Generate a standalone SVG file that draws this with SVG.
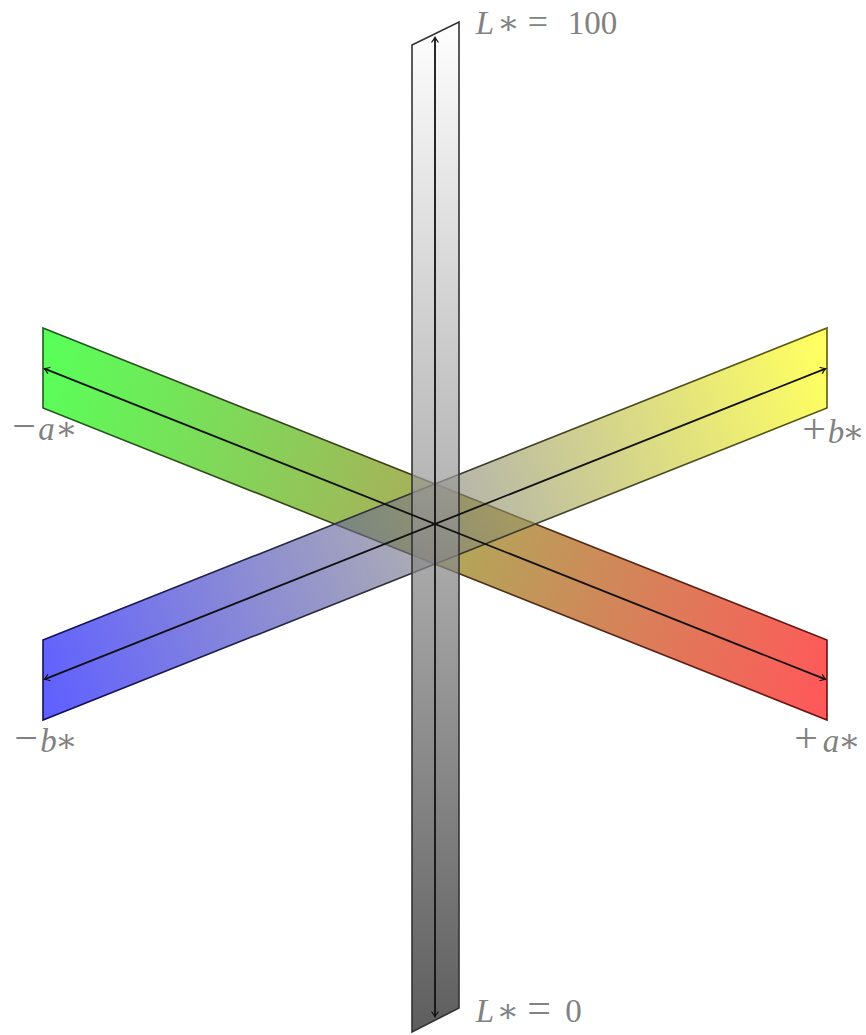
<svg xmlns="http://www.w3.org/2000/svg" width="866" height="1035" viewBox="0 0 866 1035">
<style>
.lbl{font-family:"Liberation Serif","DejaVu Serif",serif;font-size:33px;fill:#828282;text-anchor:middle}
.it{font-style:italic}
.op{font-size:42px}
.eq{font-size:36px}
.axis{stroke:#111;stroke-width:1.8;fill:none;marker-start:url(#arr);marker-end:url(#arr)}
</style>
<defs>
<marker id="arr" viewBox="-6 -5 8 10" markerWidth="8" markerHeight="10" refX="0" refY="0" orient="auto-start-reverse" markerUnits="userSpaceOnUse">
<path d="M-4.5,-3.5 Q-1,-0.8 0.8,0 Q-1,0.8 -4.5,3.5" fill="none" stroke="#111" stroke-width="1.2"/>
</marker>
<linearGradient id="gA" gradientUnits="userSpaceOnUse" x1="43" y1="368" x2="827" y2="680">
<stop offset="0" stop-color="#00ff00"/><stop offset="1" stop-color="#ff0000"/>
</linearGradient>
<linearGradient id="gAs" gradientUnits="userSpaceOnUse" x1="43" y1="368" x2="827" y2="680">
<stop offset="0" stop-color="#1e5a1e"/><stop offset="1" stop-color="#6a1010"/>
</linearGradient>
<linearGradient id="gB" gradientUnits="userSpaceOnUse" x1="43" y1="680" x2="827" y2="368">
<stop offset="0" stop-color="#0000ff"/><stop offset="1" stop-color="#ffff00"/>
</linearGradient>
<linearGradient id="gBs" gradientUnits="userSpaceOnUse" x1="43" y1="680" x2="827" y2="368">
<stop offset="0" stop-color="#10105a"/><stop offset="1" stop-color="#5a5a10"/>
</linearGradient>
<linearGradient id="gL" gradientUnits="userSpaceOnUse" x1="0" y1="22" x2="0" y2="1032">
<stop offset="0" stop-color="#ffffff"/><stop offset="1" stop-color="#202020"/>
</linearGradient>
</defs>
<rect width="866" height="1035" fill="#ffffff"/>
<g id="a-band">
<polygon points="43,328 827,640 827,720 43,408" fill="url(#gA)" fill-opacity="0.65" stroke="url(#gAs)" stroke-width="1.6"/>
</g>
<g id="b-band">
<polygon points="43,640 827,328 827,408 43,720" fill="url(#gB)" fill-opacity="0.62" stroke="url(#gBs)" stroke-width="1.6"/>
</g>
<g id="L-band">
<polygon points="412,45 459,22 459,1008 412,1032" fill="url(#gL)" fill-opacity="0.72" stroke="#333" stroke-width="1.6"/>
</g>
<g id="connectors">
<line class="axis" x1="45" y1="368.8" x2="825" y2="679.2"/>
<line class="axis" x1="45" y1="679.2" x2="825" y2="368.8"/>
<line class="axis" x1="435" y1="1016" x2="435" y2="38"/>
</g>
<g id="labels">
<text class="lbl" y="34"><tspan class="it" x="485">L</tspan><tspan x="508.5">∗</tspan><tspan class="eq" x="538">=</tspan><tspan x="592.5">100</tspan></text>
<text class="lbl" y="1022"><tspan class="it" x="485">L</tspan><tspan x="508">∗</tspan><tspan class="op" x="539">=</tspan><tspan x="573.5">0</tspan></text>
<text class="lbl" y="440"><tspan class="op" x="24">−</tspan><tspan class="it" x="46.5">a</tspan><tspan x="66.5">∗</tspan></text>
<text class="lbl" y="443"><tspan class="op" x="814">+</tspan><tspan class="it" x="836">b</tspan><tspan x="853.5">∗</tspan></text>
<text class="lbl" y="752"><tspan class="op" x="26">−</tspan><tspan class="it" x="48.5">b</tspan><tspan x="66.5">∗</tspan></text>
<text class="lbl" y="752"><tspan class="op" x="806">+</tspan><tspan class="it" x="831">a</tspan><tspan x="849.5">∗</tspan></text>
</g>
</svg>
